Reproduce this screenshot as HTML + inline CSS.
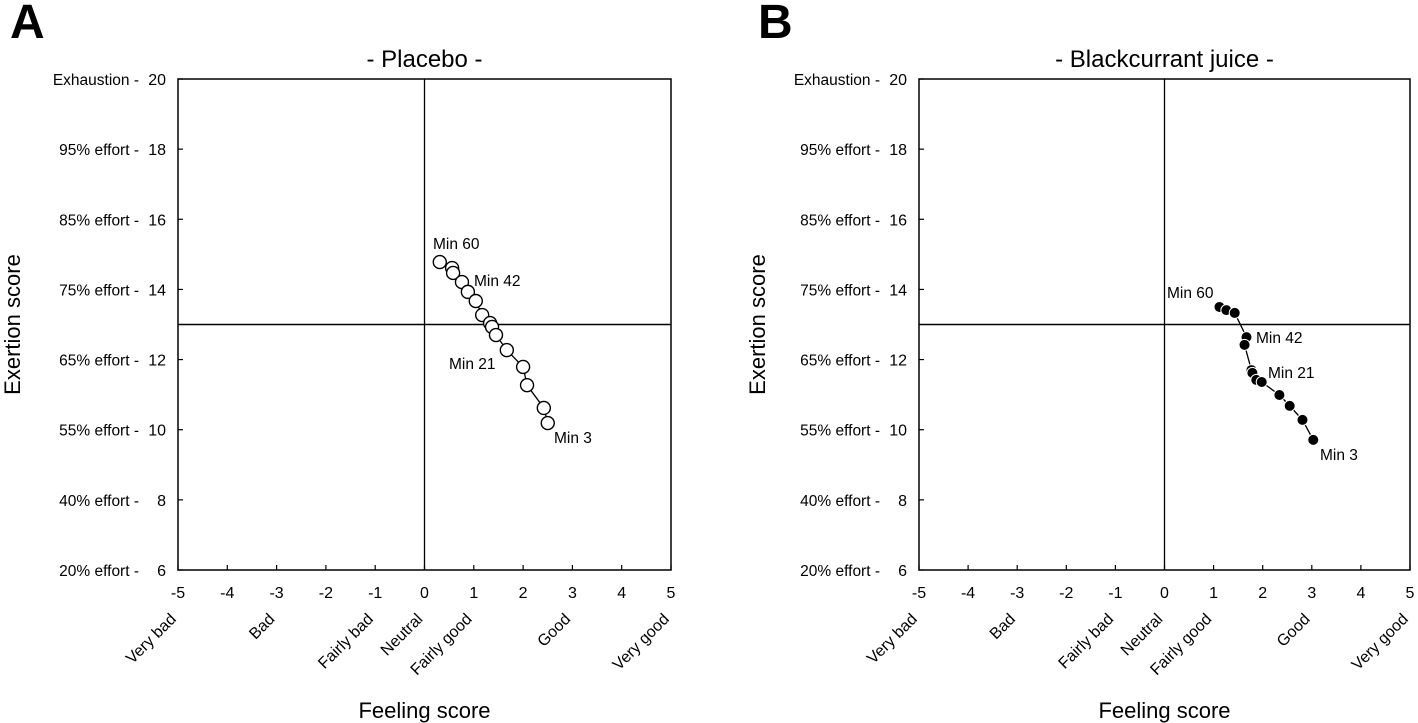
<!DOCTYPE html>
<html><head><meta charset="utf-8">
<style>
html,body{margin:0;padding:0;background:#fff;}
svg{display:block;font-family:"Liberation Sans",Arial,sans-serif;}
</style></head>
<body>
<svg id="chart" width="1418" height="723" viewBox="0 0 1418 723" xmlns="http://www.w3.org/2000/svg"></svg>
<script>
const xTicks=[-5,-4,-3,-2,-1,0,1,2,3,4,5];
const yTicks=[6,8,10,12,14,16,18,20];
const yTickLabels=["20% effort -","40% effort -","55% effort -","65% effort -","75% effort -","85% effort -","95% effort -","Exhaustion -"];
const feelCats=["Very bad","Bad","Fairly bad","Neutral","Fairly good","Good","Very good"];
const feelVals=[-5,-3,-1,0,1,3,5];
const placeboX=[0.31,0.56,0.58,0.76,0.88,1.04,1.17,1.33,1.37,1.45,1.67,2.0,2.08,2.42,2.5];
const placeboY=[14.78,14.61,14.47,14.21,13.93,13.67,13.27,13.04,12.93,12.70,12.27,11.79,11.27,10.62,10.19];
const bcX=[1.12,1.26,1.43,1.67,1.63,1.77,1.79,1.87,1.98,2.34,2.55,2.81,3.03];
const bcY=[13.50,13.41,13.33,12.64,12.42,11.70,11.62,11.42,11.36,10.99,10.68,10.28,9.71];

const NS="http://www.w3.org/2000/svg";
const svg=document.getElementById('chart');
function el(tag,attrs,parent,text){const e=document.createElementNS(NS,tag);for(const k in attrs)e.setAttribute(k,attrs[k]);if(text!==undefined)e.textContent=text;(parent||svg).appendChild(e);return e;}

function panel(cfg){
  const g=el('g',{});
  
  
  const L=cfg.left,R=cfg.right,T=79,B=570;
  const sx=v=>L+(v+5)/10*(R-L);
  const sy=v=>B-(v-6)/14*(B-T);
  const letter=el('text',{x:cfg.letterX,y:38,'font-size':48,'font-weight':'bold'},g,cfg.letter);
  
  
  const title=el('text',{x:(L+R)/2,y:67,'font-size':24,'text-anchor':'middle'},g,cfg.title);
  
  
  const frame=el('rect',{x:L,y:T,width:R-L,height:B-T,fill:'none',stroke:'#000','stroke-width':1.5},g);
  
  
  const vl=el('line',{x1:sx(0),x2:sx(0),y1:T,y2:B,stroke:'#000','stroke-width':1.3},g);
  
  
  const hl=el('line',{x1:L,x2:R,y1:sy(13),y2:sy(13),stroke:'#000','stroke-width':1.5},g);
  
  
  xTicks.forEach(v=>{
    const t=el('line',{x1:sx(v),x2:sx(v),y1:B,y2:B-5,stroke:'#000','stroke-width':1.2},g);
    
    
    const tl=el('text',{x:sx(v),y:B+28,'font-size':16,'text-anchor':'middle'},g,String(v));
    
    
  });
  feelCats.forEach((c,i)=>{
    const x=sx(feelVals[i])-1,y=B+50;
    const t=el('text',{x:x,y:y,'font-size':16,'text-anchor':'end',transform:`rotate(-45 ${x} ${y})`},g,c);
    
    
  });
  yTicks.forEach((v,i)=>{
    const t=el('line',{x1:L,x2:L+5,y1:sy(v),y2:sy(v),stroke:'#000','stroke-width':1.2},g);
    
    
    const n=el('text',{x:L-12,y:sy(v)+6,'font-size':16,'text-anchor':'end'},g,String(v));
    
    
    const lb=el('text',{x:L-39,y:sy(v)+6,'font-size':15.5,'text-anchor':'end'},g,yTickLabels[i]);
    
    
  });
  const xt=el('text',{x:(L+R)/2,y:718,'font-size':22,'text-anchor':'middle'},g,'Feeling score');
  
  
  const yx=cfg.yTitleX,yy=(T+B)/2;
  const yt=el('text',{x:yx,y:yy,'font-size':22,'text-anchor':'middle',transform:`rotate(-90 ${yx} ${yy})`},g,'Exertion score');
  
  
  const pts=cfg.xs.map((v,i)=>[sx(v),sy(cfg.ys[i])]);
  const line=el('polyline',{points:pts.map(p=>p.join(',')).join(' '),fill:'none',stroke:'#000','stroke-width':1.3},g);
  
  
  pts.forEach(p=>{
    const c=el('circle',{cx:p[0],cy:p[1],r:cfg.filled?5.5:6.5,fill:cfg.filled?'#000':'#fff',stroke:cfg.filled?'#fff':'#000','stroke-width':cfg.filled?1:1.4},g);
    
    
  });
  cfg.labels.forEach(l=>{
    const t=el('text',{x:l[1],y:l[2],'font-size':15.5},g,l[0]);
    
    
  });
}
panel({name:'placebo-panel',letter:'A',letterX:10,title:'- Placebo -',left:178,right:671,xs:placeboX,ys:placeboY,filled:false,yTitleX:20,
  labels:[['Min 60',433,249],['Min 42',474,286],['Min 21',449,369],['Min 3',554,443]]});
panel({name:'blackcurrant-panel',letter:'B',letterX:758,title:'- Blackcurrant juice -',left:919,right:1410,xs:bcX,ys:bcY,filled:true,yTitleX:765,
  labels:[['Min 60',1167,298],['Min 42',1256,343],['Min 21',1268,378],['Min 3',1320,460]]});
</script>
</body></html>
